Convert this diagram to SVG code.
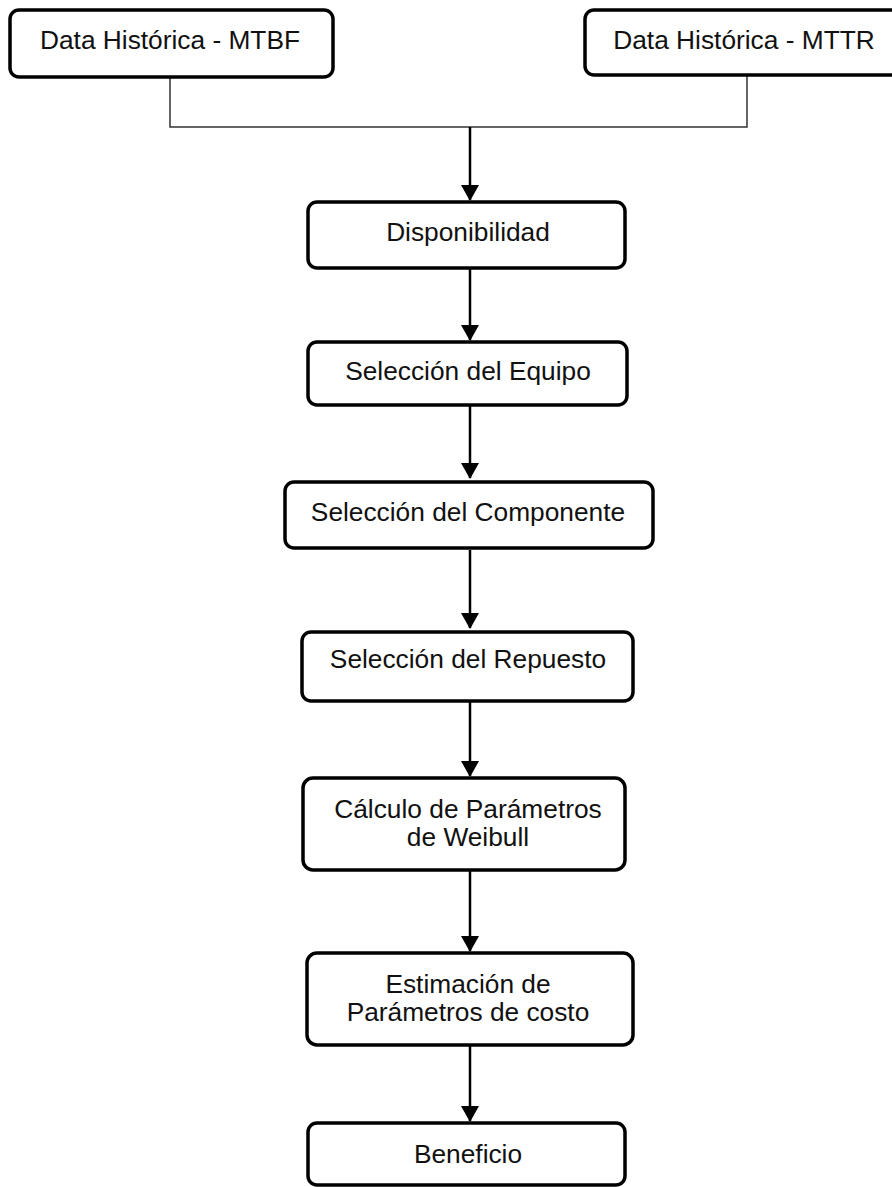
<svg xmlns="http://www.w3.org/2000/svg" width="892" height="1187" viewBox="0 0 892 1187">
<style>
.box{fill:#fff;stroke:#000;stroke-width:3.5}
.lbl{font-family:"Liberation Sans",Arial,sans-serif;font-size:26.3px;fill:#111;text-anchor:middle}
.thin{fill:none;stroke:#333;stroke-width:1.5}
.arr{fill:none;stroke:#000;stroke-width:2.5;marker-end:url(#ah)}
</style>
<defs>
<marker id="ah" viewBox="0 0 16 18" markerWidth="16" markerHeight="18" refX="15" refY="9" orient="auto" markerUnits="userSpaceOnUse">
<path d="M0,0 L16,9 L0,18 z" fill="#000"/>
</marker>
</defs>
<rect width="892" height="1187" fill="#fff"/>
<g id="connectors">
<path class="thin" d="M170,77 V127 H747 V76"/>
<line class="arr" x1="470" y1="127" x2="470" y2="200"/>
<line class="arr" x1="470" y1="268" x2="470" y2="340"/>
<line class="arr" x1="470" y1="405" x2="470" y2="478"/>
<line class="arr" x1="470" y1="550" x2="470" y2="628"/>
<line class="arr" x1="470" y1="702" x2="470" y2="776"/>
<line class="arr" x1="470" y1="870" x2="470" y2="951"/>
<line class="arr" x1="470" y1="1045" x2="470" y2="1121"/>
</g>
<g id="n_mtbf"><rect class="box" x="10" y="10" width="323" height="67" rx="9"/><text class="lbl" x="170" y="49">Data Histórica - MTBF</text></g>
<g id="n_mttr"><rect class="box" x="585" y="10" width="315" height="65" rx="9"/><text class="lbl" x="744" y="49">Data Histórica - MTTR</text></g>
<g id="n_disp"><rect class="box" x="308" y="202" width="317" height="66" rx="9"/><text class="lbl" x="468" y="241">Disponibilidad</text></g>
<g id="n_equipo"><rect class="box" x="308" y="342" width="319" height="63" rx="9"/><text class="lbl" x="468" y="380">Selección del Equipo</text></g>
<g id="n_comp"><rect class="box" x="285" y="482" width="368" height="66" rx="9"/><text class="lbl" x="468" y="521">Selección del Componente</text></g>
<g id="n_rep"><rect class="box" x="302" y="632" width="331" height="69" rx="9"/><text class="lbl" x="468" y="668">Selección del Repuesto</text></g>
<g id="n_weibull"><rect class="box" x="303" y="778" width="322" height="92" rx="10"/><text class="lbl" x="468" y="818">Cálculo de Parámetros</text><text class="lbl" x="468" y="846">de Weibull</text></g>
<g id="n_costo"><rect class="box" x="307" y="953" width="326" height="92" rx="10"/><text class="lbl" x="468" y="993">Estimación de</text><text class="lbl" x="468" y="1021">Parámetros de costo</text></g>
<g id="n_benef"><rect class="box" x="308" y="1123" width="317" height="62" rx="9"/><text class="lbl" x="468" y="1163">Beneficio</text></g>
</svg>
